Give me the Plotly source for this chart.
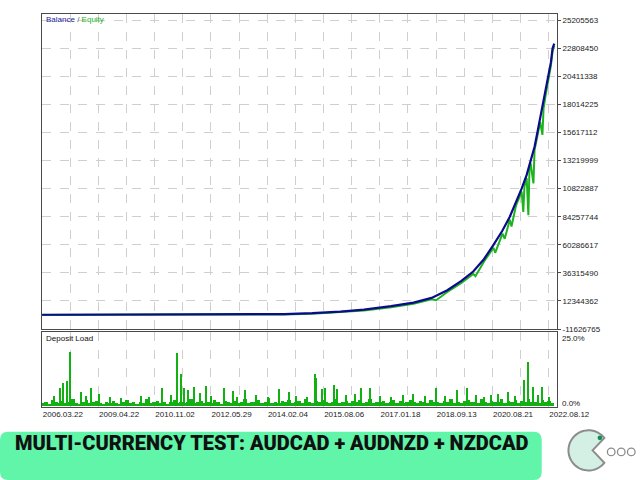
import numpy as np
import plotly.graph_objects as go

# deal index (x) and balance / equity in millions
balance_idx = [0, 100, 200, 300, 390, 430, 480, 530, 572, 620, 660, 692, 720, 745, 766, 785,
               802, 818, 831, 842, 852, 861, 868, 875, 880, 885, 889, 895, 900, 904, 907, 910]
balance = [0.60, 0.60, 0.62, 0.68, 0.80, 1.2, 1.9, 3.2, 5.0, 7.9, 11.0, 15.0, 21.5, 29.5, 37.5, 48.0,
           60.3, 72.5, 84.3, 96.0, 108.2, 120.0, 132.2, 144.0, 156.2, 168.0, 180.1, 192.0, 204.1, 216.0, 228.1, 232.0]

equity_idx = [0, 100, 200, 300, 390, 430, 480, 530, 572, 620, 660, 692, 700, 720, 745, 766, 770, 785,
              802, 805, 818, 822, 831, 834, 842, 852, 855, 857, 861, 864, 866, 868, 873, 875,
              880, 885, 889, 891, 895, 900, 904, 907, 910]
equity = [0.45, 0.45, 0.47, 0.52, 0.60, 0.9, 1.5, 2.7, 4.3, 7.0, 10.0, 13.8, 13.0, 20.0, 27.7, 35.5, 33.5, 45.8,
          57.8, 53.5, 69.8, 65.5, 81.8, 76.0, 93.8, 105.8, 88.3, 110.0, 117.3, 85.5, 126.0, 129.8, 112.7, 141.3,
          153.2, 165.0, 154.1, 177.0, 189.0, 201.0, 213.0, 225.5, 230.0]

# deposit load (%), dense base level every 6 deals plus the visible spikes
load_base = [1.2, 1.5, 0.9, 2.1, 1.3, 1.0, 1.8, 1.1, 1.4, 2.4, 1.2, 0.8, 1.6, 2.2, 1.0, 1.3, 1.9, 1.1, 0.9,
             1.5, 1.0, 1.7, 1.2, 0.8, 1.4, 2.0, 1.1, 1.3, 0.9, 1.6, 1.2, 2.3, 1.0, 1.4, 1.8, 1.1, 1.5, 0.9,
             1.3, 2.0, 1.2, 1.6, 1.0, 1.4, 2.5, 1.1, 1.3, 1.8, 1.0, 1.5, 1.2, 2.1, 1.4, 0.9, 1.7, 1.3, 1.1,
             1.9, 1.2, 1.5, 2.4, 1.0, 1.6, 1.3, 2.0, 1.1, 1.4, 2.8, 1.2, 1.6, 1.0, 1.9, 1.3, 2.2, 1.1, 1.5,
             1.7, 1.2, 2.6, 1.4, 1.0, 1.8, 1.3, 2.1, 1.5, 1.1, 1.6, 2.3, 1.2, 1.4, 1.9, 1.0, 1.7, 1.3, 2.0,
             1.2, 1.5, 2.4, 1.1, 1.6, 1.3, 1.9, 1.0, 1.4, 2.2, 1.2, 1.7, 1.1, 1.5, 2.0, 1.3, 1.0, 1.8, 1.4,
             1.1, 2.1, 1.3, 1.6, 1.0, 1.9, 1.4, 2.5, 1.2, 1.5, 1.1, 1.8, 2.2, 1.3, 1.6, 1.0, 2.4, 1.4, 1.2,
             1.8, 1.3, 1.5, 2.6, 1.1, 1.7, 1.4, 2.0, 1.2, 1.9, 1.5, 2.3, 1.3, 1.6, 1.1, 2.1, 1.4, 1.7, 1.0]
load_base_idx = list(range(0, 6 * len(load_base), 6))

spike_idx = [20, 32, 37, 44, 49, 68, 77, 86, 100, 120, 140, 175, 190, 212, 228, 240, 246, 252, 258, 270,
             280, 291, 300, 323, 338, 345, 360, 380, 400, 421, 439, 450, 470, 484, 487, 496, 503, 519, 524,
             540, 555, 566, 582, 600, 620, 640, 658, 680, 700, 715, 736, 755, 770, 785, 797, 810, 827,
             840, 855, 863, 872, 880, 888, 900]
spike_load = [3.5, 6.0, 7.8, 8.6, 18.2, 4.8, 3.4, 6.0, 4.2, 3.0, 2.8, 3.6, 3.2, 6.2, 3.8, 17.8, 11.0, 6.2, 5.6, 6.4,
              4.4, 6.8, 3.4, 6.2, 5.3, 3.2, 5.4, 3.9, 3.3, 5.9, 4.7, 3.6, 3.0, 11.0, 9.5, 5.8, 6.2, 7.1, 5.9,
              3.8, 4.2, 6.2, 6.2, 3.5, 3.0, 3.8, 4.0, 3.4, 6.2, 3.6, 5.6, 6.2, 3.9, 3.2, 3.7, 4.0, 4.7,
              3.5, 9.0, 15.0, 6.5, 3.8, 6.4, 3.3]

date_ticks = [0, 100, 200, 300, 400, 500, 600, 700, 800, 900]
date_labels = ["2006.03.22", "2009.04.22", "2010.11.02", "2012.05.29", "2014.02.04",
               "2015.08.06", "2017.01.18", "2018.09.13", "2020.08.21", "2022.08.12"]

money_ticks = [-11.626765, 12.344362, 36.315490, 60.286617, 84.257744, 108.228871,
               132.199998, 156.171125, 180.142253, 204.113380, 228.084506, 252.055633]
money_labels = ["-11626765", "12344362", "36315490", "60286617", "84257744", "10822887",
                "13219999", "15617112", "18014225", "20411338", "22808450", "25205563"]

W, H = 640, 480
def px(x):
    return x / W
def py(y):
    return 1 - y / H

FONT = "Liberation Sans"
frame = "#4a4a4a"
grid = "#cfcfcf"

fig = go.Figure()
fig.add_trace(go.Scatter(x=equity_idx, y=equity, mode="lines", line=dict(color="#1db31d", width=2),
                         xaxis="x", yaxis="y", showlegend=False))
fig.add_trace(go.Scatter(x=balance_idx, y=balance, mode="lines", line=dict(color="#0b0b8c", width=2.2),
                         xaxis="x", yaxis="y", showlegend=False))
fig.add_trace(go.Bar(x=load_base_idx, y=load_base, width=6, marker=dict(color="#12b012", line_width=0),
                     xaxis="x2", yaxis="y2", showlegend=False))
fig.add_trace(go.Bar(x=spike_idx, y=spike_load, width=2.2, marker=dict(color="#12b012", line_width=0),
                     xaxis="x2", yaxis="y2", showlegend=False))

xdom = [px(41.5), px(555)]
xcommon = dict(domain=xdom, range=[-0.9, 914.4], showline=True, linecolor=frame, linewidth=1.3, mirror=True,
               tickvals=date_ticks, showgrid=True, gridcolor=grid, griddash="dash", gridwidth=1,
               minor=dict(dtick=50, tick0=0, showgrid=True, gridcolor=grid, griddash="dash"),
               zeroline=False)
# the page is photographed a little larger than 640x480, so the figure is sized to fill it
fig.update_layout(
    width=675, height=486, margin=dict(l=0, r=0, t=0, b=0),
    paper_bgcolor="white", plot_bgcolor="white", bargap=0, barmode="overlay",
    font=dict(family=FONT, size=8, color="#222"),
    xaxis=dict(xcommon, anchor="y", showticklabels=False, ticks=""),
    xaxis2=dict(xcommon, anchor="y2", matches="x", ticktext=date_labels, ticks="",
                ticklabelposition="outside right", tickfont=dict(size=8, color="#222")),
    yaxis=dict(domain=[py(328), py(14)], range=[-11.884, 257.29], side="right", anchor="x",
               tickvals=money_ticks, ticktext=money_labels, ticks="outside", ticklen=3, tickcolor=frame,
               showline=True, linecolor=frame, linewidth=1.3, mirror=True,
               showgrid=True, gridcolor=grid, griddash="dash", zeroline=False),
    yaxis2=dict(domain=[py(405), py(331)], range=[0, 25], side="right", anchor="x2",
                showticklabels=False, ticks="",
                showline=True, linecolor=frame, linewidth=1.3, mirror=True, showgrid=False, zeroline=False),
)

fig.add_annotation(x=px(44), y=py(19), xref="paper", yref="paper", xanchor="left", yanchor="middle",
                   showarrow=False, font=dict(size=8),
                   text="<span style='color:#1a1a9a'>Balance</span><span style='color:#555'> / </span>"
                        "<span style='color:#22b022'>Equity</span>")
fig.add_annotation(x=px(44), y=py(337), xref="paper", yref="paper", xanchor="left", yanchor="middle",
                   showarrow=False, font=dict(size=8, color="#111"), text="Deposit Load")
# deposit load scale labels
fig.add_annotation(x=px(558), y=py(337), xref="paper", yref="paper", xanchor="left", yanchor="middle",
                   showarrow=False, font=dict(size=8, color="#222"), text="25.0%")
fig.add_annotation(x=px(558), y=py(402), xref="paper", yref="paper", xanchor="left", yanchor="middle",
                   showarrow=False, font=dict(size=8, color="#222"), text="0.0%")

# banner
x0, x1, y0, y1, rr = 0, 540, 430, 478, 8
banner = (f"M {px(x0)},{py(y0 + rr)} Q {px(x0)},{py(y0)} {px(x0 + rr)},{py(y0)} "
          f"L {px(x1 - rr)},{py(y0)} Q {px(x1)},{py(y0)} {px(x1)},{py(y0 + rr)} "
          f"L {px(x1)},{py(y1 - rr)} Q {px(x1)},{py(y1)} {px(x1 - rr)},{py(y1)} "
          f"L {px(x0 + rr)},{py(y1)} Q {px(x0)},{py(y1)} {px(x0)},{py(y1 - rr)} Z")
fig.add_shape(type="path", path=banner, xref="paper", yref="paper", fillcolor="#60f5a8", line_width=0)
fig.add_annotation(x=px(271), y=py(455), xref="paper", yref="paper", showarrow=False,
                   text="MULTI-CURRENCY TEST: AUDCAD + AUDNZD + NZDCAD",
                   font=dict(family="Roboto", size=20, color="#111", weight=900))

# logo
cx, cy, r = 586.7, 448.5, 20
ang = np.radians(np.linspace(38, 322, 60))
pac = f"M {px(cx + 4)},{py(cy)} " + " ".join(
    f"L {px(cx + r * np.cos(a))},{py(cy - r * np.sin(a))}" for a in ang) + " Z"
fig.add_shape(type="path", path=pac, xref="paper", yref="paper", fillcolor="#d4f0e4",
              line=dict(color="#8c8c8c", width=2))
fig.add_shape(type="circle", xref="paper", yref="paper", x0=px(595.7), x1=px(600.3), y0=py(433.7), y1=py(438.3),
              fillcolor="#0e8f55", line_width=0)
for ox in [609.3, 619.3, 629.3]:
    fig.add_shape(type="circle", xref="paper", yref="paper", x0=px(ox - 3.8), x1=px(ox + 3.8),
                  y0=py(446.2), y1=py(453.8), fillcolor="white", line=dict(color="#8c8c8c", width=1.3))

fig.write_html("out.html", config={"displayModeBar": False},
               post_script="document.body.style.margin='0';document.body.style.overflow='hidden';")
